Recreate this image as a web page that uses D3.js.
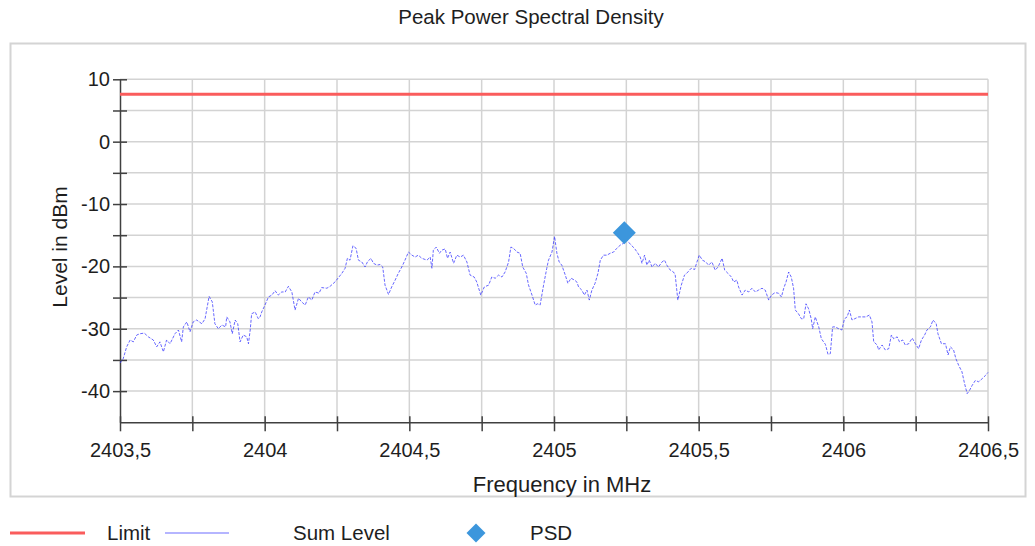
<!DOCTYPE html>
<html>
<head>
<meta charset="utf-8">
<script src="https://cdn.jsdelivr.net/npm/d3@7"></script>
<style>
  body { margin: 0; background: #fff; }
  text { font-family: "Liberation Sans", Arial, sans-serif; fill: #1e1e1e; }
</style>
</head>
<body>
<div id="chart"></div>
<script>
// Chart text
const chartTitle = "Peak Power Spectral Density";
const xTitle = "Frequency in MHz";
const yTitle = "Level in dBm";
const legendLabels = ["Limit", "Sum Level", "PSD"];

// Axis ticks
const xMajorTicks = [2403.5, 2404, 2404.5, 2405, 2405.5, 2406, 2406.5];
const xMinorTicks = [2403.75, 2404.25, 2404.75, 2405.25, 2405.75, 2406.25];
const yMajorTicks = [-40, -30, -20, -10, 0, 10];
const yMinorTicks = [-35, -25, -15, -5, 5];

// Limit line (dBm) and PSD peak marker [MHz, dBm]
const limitLevel = 7.6;
const psdPeak = [2405.243, -14.6];

// Sum level trace [MHz, dBm]
const sumLevelTrace = [
  [2403.5, -35.5], [2403.511, -34.8], [2403.523, -32.9], [2403.535, -31.8], [2403.546, -32.1],
  [2403.558, -31.0], [2403.569, -30.8], [2403.584, -30.7], [2403.598, -31.3], [2403.615, -31.8],
  [2403.627, -32.9], [2403.638, -32.1], [2403.650, -33.7], [2403.661, -31.8], [2403.673, -32.4],
  [2403.690, -30.8], [2403.702, -30.2], [2403.713, -32.1], [2403.719, -29.7], [2403.731, -28.9],
  [2403.742, -30.5], [2403.753, -28.9], [2403.765, -28.6], [2403.783, -29.2], [2403.794, -28.4],
  [2403.808, -24.8], [2403.819, -25.7], [2403.828, -29.2], [2403.840, -30.0], [2403.852, -29.4],
  [2403.865, -29.7], [2403.869, -28.1], [2403.880, -28.9], [2403.888, -30.8], [2403.898, -28.6],
  [2403.907, -29.2], [2403.915, -32.1], [2403.926, -31.0], [2403.938, -31.3], [2403.944, -32.4],
  [2403.950, -30.2], [2403.955, -27.6], [2403.967, -27.3], [2403.978, -28.4], [2403.984, -28.1],
  [2403.990, -27.3], [2404.001, -26.2], [2404.013, -24.9], [2404.025, -24.6], [2404.036, -23.9],
  [2404.047, -24.6], [2404.059, -24.1], [2404.071, -24.1], [2404.082, -23.2], [2404.094, -24.1],
  [2404.105, -27.0], [2404.117, -25.1], [2404.128, -25.7], [2404.140, -26.2], [2404.151, -24.9],
  [2404.163, -25.4], [2404.174, -24.1], [2404.188, -24.3], [2404.197, -23.4], [2404.215, -23.5],
  [2404.226, -23.2], [2404.243, -22.5], [2404.267, -21.1], [2404.278, -20.3], [2404.286, -18.7],
  [2404.295, -19.0], [2404.305, -16.7], [2404.316, -17.1], [2404.324, -19.0], [2404.336, -19.3],
  [2404.347, -20.1], [2404.355, -19.3], [2404.367, -18.7], [2404.376, -19.5], [2404.388, -19.8],
  [2404.399, -19.7], [2404.408, -20.1], [2404.416, -23.0], [2404.428, -24.5], [2404.439, -23.3],
  [2404.451, -22.2], [2404.462, -21.1], [2404.474, -20.1], [2404.485, -19.0], [2404.497, -17.7],
  [2404.509, -18.2], [2404.520, -18.5], [2404.531, -18.2], [2404.543, -18.7], [2404.561, -19.0],
  [2404.572, -18.5], [2404.578, -20.3], [2404.583, -17.4], [2404.593, -16.9], [2404.604, -17.9],
  [2404.612, -17.4], [2404.624, -17.2], [2404.632, -18.7], [2404.641, -17.7], [2404.653, -19.5],
  [2404.664, -18.2], [2404.676, -18.5], [2404.687, -18.2], [2404.699, -19.3], [2404.710, -21.4],
  [2404.724, -21.7], [2404.733, -22.5], [2404.747, -24.6], [2404.759, -23.3], [2404.774, -23.0],
  [2404.785, -21.7], [2404.797, -21.9], [2404.808, -21.4], [2404.820, -21.7], [2404.831, -20.9],
  [2404.843, -19.3], [2404.851, -16.9], [2404.860, -17.1], [2404.872, -17.7], [2404.883, -17.9],
  [2404.892, -20.1], [2404.904, -21.1], [2404.912, -23.0], [2404.924, -24.6], [2404.935, -26.2],
  [2404.943, -26.0], [2404.952, -26.2], [2404.964, -23.0], [2404.975, -20.3], [2404.981, -19.0],
  [2404.993, -17.7], [2405.002, -15.2], [2405.010, -17.9], [2405.018, -19.3], [2405.027, -19.8],
  [2405.039, -21.4], [2405.048, -22.7], [2405.059, -21.9], [2405.071, -22.2], [2405.079, -22.5],
  [2405.085, -23.3], [2405.096, -23.8], [2405.105, -24.6], [2405.114, -23.8], [2405.122, -25.4],
  [2405.131, -23.8], [2405.142, -22.7], [2405.152, -21.1], [2405.160, -19.0], [2405.171, -18.2],
  [2405.183, -18.2], [2405.194, -17.9], [2405.206, -17.7], [2405.217, -17.1], [2405.229, -16.6],
  [2405.240, -16.3], [2405.252, -15.8], [2405.267, -16.6], [2405.278, -17.1], [2405.290, -17.9],
  [2405.298, -18.5], [2405.304, -19.5], [2405.313, -18.2], [2405.321, -19.8], [2405.329, -19.0],
  [2405.339, -20.1], [2405.350, -19.5], [2405.361, -20.1], [2405.373, -19.3], [2405.382, -19.0],
  [2405.390, -19.8], [2405.402, -20.6], [2405.413, -20.9], [2405.419, -21.4], [2405.428, -25.4],
  [2405.440, -23.0], [2405.451, -21.4], [2405.463, -20.9], [2405.474, -20.3], [2405.486, -20.5],
  [2405.494, -19.3], [2405.502, -18.2], [2405.513, -19.0], [2405.525, -19.3], [2405.534, -19.8],
  [2405.546, -19.3], [2405.557, -20.6], [2405.567, -20.1], [2405.581, -18.7], [2405.590, -20.6],
  [2405.601, -21.1], [2405.613, -21.7], [2405.621, -22.5], [2405.632, -22.2], [2405.638, -23.3],
  [2405.650, -24.6], [2405.661, -23.8], [2405.673, -24.1], [2405.684, -23.5], [2405.696, -24.1],
  [2405.707, -23.8], [2405.719, -23.5], [2405.730, -23.8], [2405.742, -25.4], [2405.752, -24.6],
  [2405.764, -24.2], [2405.776, -24.3], [2405.786, -24.9], [2405.794, -23.5], [2405.802, -22.5],
  [2405.811, -20.9], [2405.820, -21.7], [2405.828, -23.5], [2405.834, -27.0], [2405.845, -27.6],
  [2405.855, -28.4], [2405.863, -28.4], [2405.871, -26.0], [2405.880, -26.8], [2405.889, -28.4],
  [2405.894, -30.0], [2405.903, -28.1], [2405.915, -29.7], [2405.924, -31.6], [2405.938, -32.5],
  [2405.947, -34.1], [2405.955, -34.0], [2405.963, -29.7], [2405.972, -29.7], [2405.984, -30.0],
  [2405.995, -30.2], [2406.004, -28.4], [2406.013, -28.1], [2406.021, -27.0], [2406.030, -28.6],
  [2406.039, -28.4], [2406.053, -28.1], [2406.065, -28.1], [2406.078, -28.1], [2406.090, -27.8],
  [2406.099, -28.9], [2406.105, -32.1], [2406.117, -32.6], [2406.122, -33.4], [2406.134, -32.6],
  [2406.145, -33.4], [2406.157, -33.2], [2406.166, -31.0], [2406.174, -31.6], [2406.186, -31.3],
  [2406.194, -32.1], [2406.205, -31.8], [2406.214, -32.6], [2406.226, -32.4], [2406.238, -31.5],
  [2406.249, -32.4], [2406.260, -33.2], [2406.270, -31.8], [2406.281, -31.0], [2406.289, -30.2],
  [2406.301, -29.7], [2406.310, -28.6], [2406.321, -29.2], [2406.327, -30.8], [2406.339, -32.4],
  [2406.353, -32.4], [2406.362, -34.2], [2406.370, -32.9], [2406.381, -33.4], [2406.389, -34.8],
  [2406.399, -35.9], [2406.410, -36.9], [2406.419, -38.8], [2406.428, -40.4], [2406.436, -39.9],
  [2406.445, -39.1], [2406.456, -38.3], [2406.468, -38.5], [2406.480, -38.0], [2406.491, -37.5],
  [2406.500, -37.0]
];

// Layout
const width = 1035, height = 546;
const plot = { left: 120, right: 988, top: 79.3, bottom: 422.3 };
const fontStack = "'Liberation Sans', Arial, sans-serif";

const svg = d3.select("#chart").append("svg")
  .attr("width", width).attr("height", height);

// Scales
const x = d3.scaleLinear().domain([2403.5, 2406.5]).range([plot.left, plot.right]);
const y = d3.scaleLinear().domain([-45, 10]).range([plot.bottom, plot.top]);

// Outer frame
svg.append("rect")
  .attr("x", 10.5).attr("y", 43.5).attr("width", 1015).attr("height", 453)
  .attr("fill", "none").attr("stroke", "#d4d4d4").attr("stroke-width", 2);

// Title
svg.append("text")
  .attr("x", 531).attr("y", 24).attr("text-anchor", "middle")
  .style("font-size", "20.5px").text(chartTitle);

// Grid lines
const allY = yMajorTicks.concat(yMinorTicks).filter(d => d > -45);
svg.append("g").selectAll("line").data(allY).join("line")
  .attr("x1", plot.left).attr("x2", plot.right)
  .attr("y1", d => y(d)).attr("y2", d => y(d))
  .attr("stroke", "#d3d3d3").attr("stroke-width", 1.5);

const allX = xMajorTicks.concat(xMinorTicks).filter(d => d > 2403.5);
svg.append("g").selectAll("line").data(allX).join("line")
  .attr("x1", d => x(d)).attr("x2", d => x(d))
  .attr("y1", plot.top).attr("y2", plot.bottom)
  .attr("stroke", "#d3d3d3").attr("stroke-width", 1.5);

// Y axis
const yAxis = svg.append("g")
  .attr("transform", `translate(${plot.left},0)`)
  .call(d3.axisLeft(y)
    .tickValues(yMajorTicks.concat(yMinorTicks))
    .tickFormat(d => (yMajorTicks.includes(d) ? d : ""))
    .tickSizeOuter(0));
yAxis.select(".domain").attr("stroke", "#404040").attr("stroke-width", 1.5);
yAxis.selectAll(".tick line").attr("x1", 7).attr("x2", -7)
  .attr("stroke", "#404040").attr("stroke-width", 1.5);
yAxis.selectAll(".tick text").attr("x", -10)
  .style("font-size", "20px").style("font-family", fontStack)
  .attr("fill", "#1e1e1e");

// X axis
const xAxis = svg.append("g")
  .attr("transform", `translate(0,${plot.bottom})`)
  .call(d3.axisBottom(x)
    .tickValues(xMajorTicks.concat(xMinorTicks))
    .tickFormat(d => (xMajorTicks.includes(d) ? String(d).replace(".", ",") : ""))
    .tickSizeOuter(0));
xAxis.select(".domain").attr("stroke", "#404040").attr("stroke-width", 1.5);
xAxis.selectAll(".tick line").attr("y1", -6).attr("y2", 9)
  .attr("stroke", "#404040").attr("stroke-width", 1.5);
xAxis.selectAll(".tick text").attr("y", 21)
  .style("font-size", "20px").style("font-family", fontStack)
  .attr("fill", "#1e1e1e");

// Axis titles
svg.append("text")
  .attr("x", 562).attr("y", 492).attr("text-anchor", "middle")
  .style("font-size", "22px").text(xTitle);
svg.append("text")
  .attr("transform", "translate(67,247) rotate(-90)").attr("text-anchor", "middle")
  .style("font-size", "21px").text(yTitle);

// Limit line
svg.append("line")
  .attr("x1", x(2403.5)).attr("x2", x(2406.5))
  .attr("y1", y(limitLevel)).attr("y2", y(limitLevel))
  .attr("stroke", "#fa5c5c").attr("stroke-width", 3);

// Sum level trace
const line = d3.line().x(d => x(d[0])).y(d => y(d[1]));
svg.append("path")
  .datum(sumLevelTrace)
  .attr("d", line)
  .attr("fill", "none")
  .attr("stroke", "#3535ff")
  .attr("stroke-opacity", 0.75)
  .attr("stroke-width", 1)
  .attr("stroke-dasharray", "3,1.5");

// PSD marker
const diamondBig = d3.symbol().type(d3.symbolSquare).size(265);
svg.append("path")
  .attr("d", diamondBig())
  .attr("transform", `translate(${x(psdPeak[0])},${y(psdPeak[1])}) rotate(45)`)
  .attr("fill", "#3c96dc");

// Legend
const legendY = 533;
svg.append("line").attr("x1", 10).attr("x2", 85)
  .attr("y1", legendY).attr("y2", legendY)
  .attr("stroke", "#fa5c5c").attr("stroke-width", 3);
svg.append("line").attr("x1", 165).attr("x2", 229)
  .attr("y1", legendY).attr("y2", legendY)
  .attr("stroke", "#9c9cff").attr("stroke-width", 1.5);
svg.append("path")
  .attr("d", d3.symbol().type(d3.symbolSquare).size(180)())
  .attr("transform", `translate(476,${legendY}) rotate(45)`)
  .attr("fill", "#3c96dc");

const legendTextX = [107, 293, 530];
svg.append("g").selectAll("text").data(legendLabels).join("text")
  .attr("x", (d, i) => legendTextX[i]).attr("y", legendY + 7)
  .style("font-size", "20.5px").text(d => d);
</script>
</body>
</html>
